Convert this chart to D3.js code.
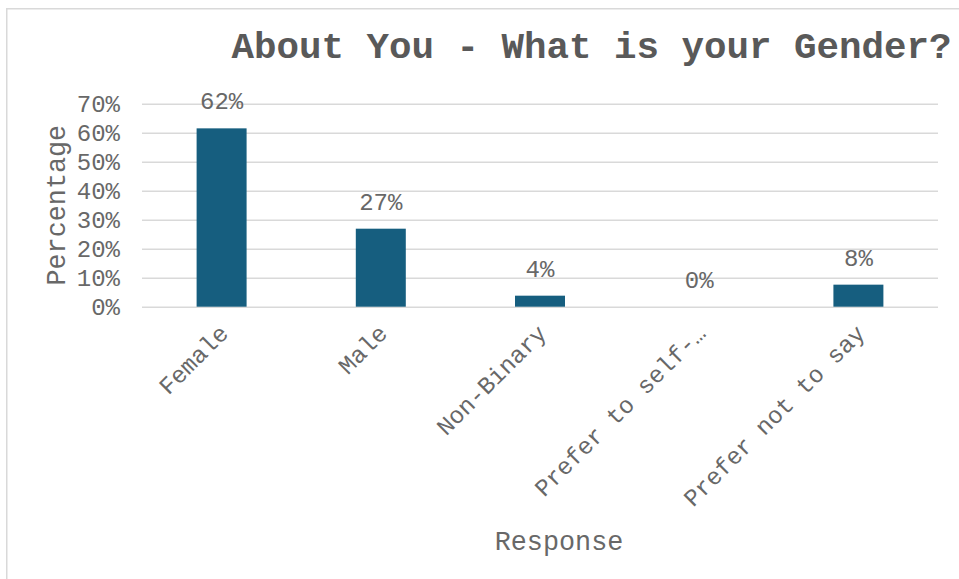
<!DOCTYPE html>
<html>
<head>
<meta charset="utf-8">
<script src="https://cdn.jsdelivr.net/npm/d3@7"></script>
<style>
  html, body { margin: 0; padding: 0; background: #fff; }
  svg { display: block; }
  text { font-family: "Liberation Mono", "Courier New", monospace; fill: #686868; }
</style>
</head>
<body>
<svg id="chart" width="959" height="579"></svg>
<script>
// Survey responses: share of respondents by gender (percent)
const categories = ["Female", "Male", "Non-Binary", "Prefer to self-…", "Prefer not to say"];
const percentages = [61.5, 26.9, 3.8, 0, 7.6];
const yTicks = [0, 10, 20, 30, 40, 50, 60, 70];

const title = "About You - What is your Gender?";
const xTitle = "Response";
const yTitle = "Percentage";

const textColor = "#686868";
const svg = d3.select("#chart");
const plot = { left: 142, right: 938, top: 103.7, bottom: 306.7 };

// outer chart frame (continues past the right and bottom edges)
svg.append("rect")
  .attr("x", 6.75).attr("y", 8.75)
  .attr("width", 1200).attr("height", 1200)
  .attr("fill", "#fff")
  .attr("stroke", "#d9d9d9").attr("stroke-width", 1.5);

const x = d3.scaleBand()
  .domain(categories)
  .range([plot.left, plot.right])
  .paddingInner(0.686)
  .paddingOuter(0.343);

const y = d3.scaleLinear()
  .domain([0, 70])
  .range([plot.bottom, plot.top]);

// horizontal gridlines with percentage tick labels
const yAxis = d3.axisLeft(y)
  .tickValues(yTicks)
  .tickFormat(d => d + "%")
  .tickSize(-(plot.right - plot.left))
  .tickPadding(22);

const gy = svg.append("g")
  .attr("transform", `translate(${plot.left},0)`)
  .call(yAxis);
gy.select(".domain").remove();
gy.selectAll(".tick line").attr("stroke", "#d9d9d9").attr("stroke-width", 1.5);
gy.selectAll(".tick text")
  .attr("font-size", 24)
  .attr("fill", textColor)
  .style("font-family", '"Liberation Mono", "Courier New", monospace');

const rows = categories.map((c, i) => ({ c, v: percentages[i] }));

// bars
svg.append("g").selectAll("rect")
  .data(rows)
  .join("rect")
  .attr("x", d => x(d.c))
  .attr("y", d => y(d.v))
  .attr("width", x.bandwidth())
  .attr("height", d => y(0) - y(d.v))
  .attr("fill", "#165e7f");

// value labels above bars
svg.append("g").selectAll("text")
  .data(rows)
  .join("text")
  .attr("x", d => x(d.c) + x.bandwidth() / 2)
  .attr("y", d => y(d.v) - 19)
  .attr("text-anchor", "middle")
  .attr("font-size", 24)
  .text(d => Math.round(d.v) + "%");

// category labels, rotated
const xAxis = d3.axisBottom(x).tickSize(0).tickPadding(0);
const gx = svg.append("g")
  .attr("transform", `translate(0,${plot.bottom})`)
  .call(xAxis);
gx.select(".domain").remove();
gx.selectAll(".tick text")
  .attr("font-size", 24)
  .attr("fill", textColor)
  .style("font-family", '"Liberation Mono", "Courier New", monospace')
  .attr("text-anchor", "end")
  .attr("dy", null)
  .attr("y", 0)
  .attr("transform", "translate(8,28) rotate(-45)");

// chart title
svg.append("text")
  .attr("x", 591.5).attr("y", 58)
  .attr("text-anchor", "middle")
  .attr("font-size", 37.5)
  .attr("font-weight", "bold")
  .style("fill", "#595959")
  .text(title);

// axis titles
svg.append("text")
  .attr("x", 559).attr("y", 550)
  .attr("text-anchor", "middle")
  .attr("font-size", 26.8)
  .text(xTitle);

svg.append("text")
  .attr("transform", `translate(65,${(plot.top + plot.bottom) / 2}) rotate(-90)`)
  .attr("text-anchor", "middle")
  .attr("font-size", 26.8)
  .text(yTitle);
</script>
</body>
</html>
